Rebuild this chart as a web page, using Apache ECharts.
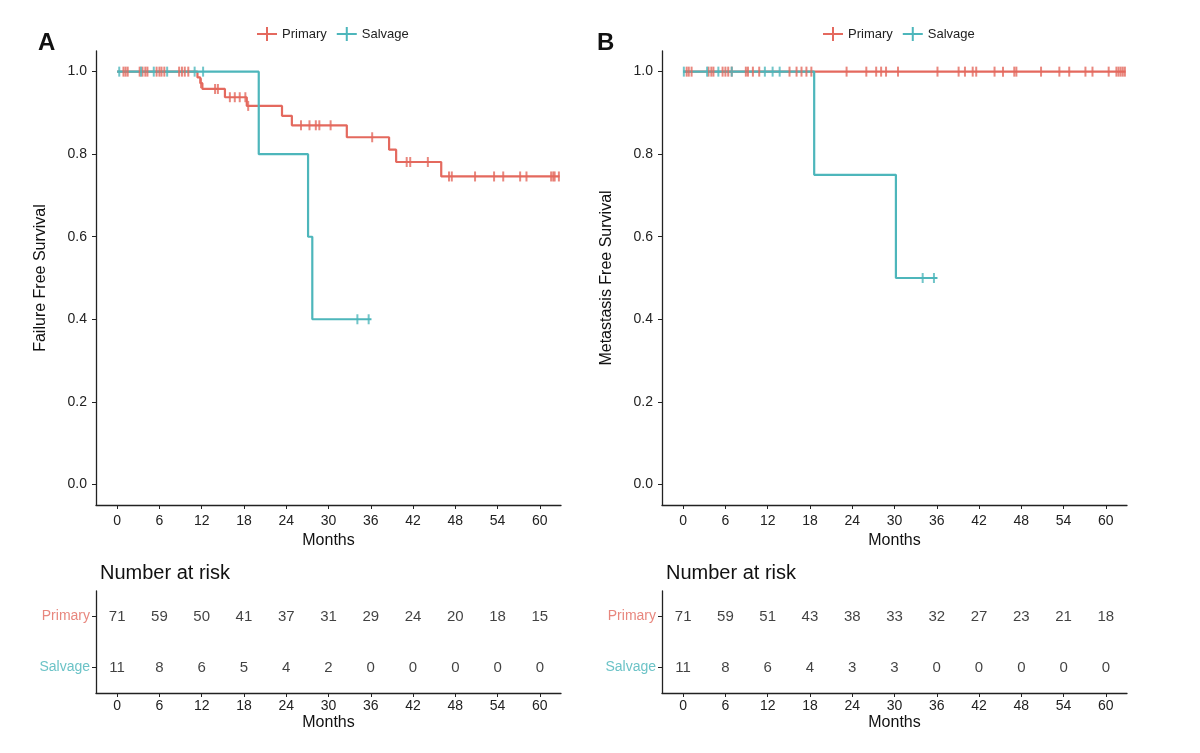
<!DOCTYPE html>
<html>
<head>
<meta charset="utf-8">
<script src="https://cdn.jsdelivr.net/npm/echarts@6/dist/echarts.min.js"></script>
<style>
  html, body { margin: 0; padding: 0; background: #fff; }
  #main { width: 1200px; height: 753px; }
</style>
</head>
<body>
<div id="main"></div>
<script>
// 数据：Kaplan-Meier 曲线（月份, 生存率）
var monthTicks = [0, 6, 12, 18, 24, 30, 36, 42, 48, 54, 60];
var survTicks = [0, 0.2, 0.4, 0.6, 0.8, 1.0];

// A: Failure Free Survival
var stepsA_primary = [[0, 1], [11.4, 0.986], [11.8, 0.972], [12.1, 0.958], [15.3, 0.938], [18.4, 0.917],
  [23.4, 0.893], [24.8, 0.870], [32.6, 0.841], [38.6, 0.811], [39.6, 0.781], [46.0, 0.746], [62.8, 0.746]];
var stepsA_salvage = [[0, 1], [20.1, 0.8], [27.1, 0.6], [27.7, 0.4], [36.1, 0.4]];
var censorA_primary = [0.9, 1.2, 1.5, 3.2, 3.6, 4.0, 4.3, 5.6, 6.0, 6.3, 6.7, 8.8, 9.2, 9.6, 10.1, 11.9,
  13.9, 14.3, 16.0, 16.7, 17.4, 18.2, 18.6, 26.1, 27.3, 28.2, 28.7, 30.3, 36.2, 41.1, 41.6, 44.1,
  47.1, 47.5, 50.8, 53.5, 54.8, 57.2, 58.1, 61.6, 61.9, 62.1, 62.7];
var censorA_salvage = [0.3, 3.4, 5.2, 7.1, 11.0, 12.2, 34.1, 35.7];

// B: Metastasis Free Survival
var stepsB_primary = [[0, 1], [62.8, 1]];
var stepsB_salvage = [[0, 1], [18.6, 0.75], [30.2, 0.5], [36.1, 0.5]];
var censorB_primary = [0.5, 0.8, 1.2, 3.6, 4.0, 4.3, 5.6, 6.0, 6.4, 6.9, 8.9, 9.2, 9.9, 10.8, 15.1, 16.1,
  16.8, 17.5, 18.2, 23.2, 26.0, 27.4, 28.1, 28.8, 30.5, 36.1, 39.1, 40.0, 41.1, 41.6, 44.2, 45.4,
  47.0, 47.3, 50.8, 53.4, 54.8, 57.1, 58.1, 60.4, 61.5, 61.8, 62.1, 62.4, 62.7];
var censorB_salvage = [0.1, 3.4, 5.0, 6.9, 11.6, 12.7, 13.7, 34.0, 35.6];

// Number at risk
var riskA_primary = [71, 59, 50, 41, 37, 31, 29, 24, 20, 18, 15];
var riskA_salvage = [11, 8, 6, 5, 4, 2, 0, 0, 0, 0, 0];
var riskB_primary = [71, 59, 51, 43, 38, 33, 32, 27, 23, 21, 18];
var riskB_salvage = [11, 8, 6, 4, 3, 3, 0, 0, 0, 0, 0];

var groups = ['Salvage', 'Primary'];
var RED = '#E4695E', TEAL = '#4DB6BB';
var FONT = 'Arial, "Liberation Sans", sans-serif';

var myChart = echarts.init(document.getElementById('main'));

// 删失点放在对应的阶梯高度上
function levelAt(steps, t) {
  var v = steps[0][1];
  for (var i = 0; i < steps.length; i++) {
    if (steps[i][0] <= t) v = steps[i][1];
  }
  return v;
}
function censorData(steps, times) {
  return times.map(function (t) { return [t, levelAt(steps, t)]; });
}
function riskData(primary, salvage) {
  var out = [];
  monthTicks.forEach(function (m, i) {
    out.push([m, 'Primary', primary[i]]);
    out.push([m, 'Salvage', salvage[i]]);
  });
  return out;
}

var tickMark = 'path://M0,0L2,0L2,10L0,10Z';
var legendIcon = 'path://M0,9L20,9L20,11L0,11Z M9,3L11,3L11,17L9,17Z';

function xAxisCfg(gridIndex, labelMargin, nameGap) {
  return {
    type: 'value', gridIndex: gridIndex, min: -3, max: 63,
    name: 'Months', nameLocation: 'middle', nameGap: nameGap,
    nameTextStyle: { fontSize: 16, color: '#111', fontFamily: FONT },
    axisLine: { show: true, onZero: false, lineStyle: { color: '#222', width: 1.3 } },
    axisTick: { show: true, length: 4, customValues: monthTicks, lineStyle: { color: '#222' } },
    axisLabel: { customValues: monthTicks, fontSize: 14, color: '#222', margin: labelMargin, fontFamily: FONT },
    splitLine: { show: false }
  };
}
function yAxisCfg(gridIndex, name) {
  return {
    type: 'value', gridIndex: gridIndex, min: -0.05, max: 1.05,
    name: name, nameLocation: 'middle', nameGap: 47,
    nameTextStyle: { fontSize: 16, color: '#111', fontFamily: FONT },
    axisLine: { show: true, onZero: false, lineStyle: { color: '#222', width: 1.3 } },
    axisTick: { show: true, length: 4, customValues: survTicks, lineStyle: { color: '#222' } },
    axisLabel: {
      customValues: survTicks, fontSize: 14, color: '#222', margin: 9, fontFamily: FONT,
      formatter: function (v) { return v.toFixed(1); }
    },
    splitLine: { show: false }
  };
}
function riskYAxis(gridIndex) {
  return {
    type: 'category', gridIndex: gridIndex, data: groups,
    axisLine: { show: true, onZero: false, lineStyle: { color: '#222', width: 1.3 } },
    axisTick: { show: true, length: 4, alignWithLabel: true, lineStyle: { color: '#222' } },
    axisLabel: {
      fontSize: 14, margin: 6, fontFamily: FONT,
      color: function (v) { return v === 'Primary' ? '#E8877E' : '#6CC3C7'; }
    }
  };
}
function stepSeries(name, steps, color, xi) {
  return {
    name: name, type: 'line', step: 'end', data: steps, xAxisIndex: xi, yAxisIndex: xi,
    symbol: 'none', lineStyle: { color: color, width: 2.2 }, itemStyle: { color: color }, z: 2
  };
}
function censorSeries(name, steps, times, color, xi) {
  return {
    name: name, type: 'scatter', data: censorData(steps, times), xAxisIndex: xi, yAxisIndex: xi,
    symbol: tickMark, symbolSize: [2, 10], itemStyle: { color: color }, z: 3, silent: true
  };
}
function riskSeries(data, xi) {
  return {
    type: 'scatter', data: data, xAxisIndex: xi, yAxisIndex: xi, symbolSize: 0, silent: true,
    label: {
      show: true, position: 'inside', fontSize: 15, color: '#111', fontFamily: FONT,
      formatter: function (p) { return p.data[2]; }
    }
  };
}

var option = {
  animation: false,
  backgroundColor: '#fff',
  textStyle: { fontFamily: FONT },
  title: [
    { text: 'A', left: 33, top: 26, textStyle: { fontSize: 24, fontWeight: 'bold', color: '#111', fontFamily: FONT } },
    { text: 'B', left: 592, top: 26, textStyle: { fontSize: 24, fontWeight: 'bold', color: '#111', fontFamily: FONT } },
    { text: 'Number at risk', left: 95, top: 558, textStyle: { fontSize: 20, fontWeight: 'normal', color: '#111', fontFamily: FONT } },
    { text: 'Number at risk', left: 661, top: 558, textStyle: { fontSize: 20, fontWeight: 'normal', color: '#111', fontFamily: FONT } }
  ],
  legend: [
    { data: ['Primary', 'Salvage'], left: 252, top: 22, icon: legendIcon, itemWidth: 20, itemHeight: 18, itemGap: 10,
      textStyle: { fontSize: 13, color: '#222', fontFamily: FONT } },
    { data: ['Primary', 'Salvage'], left: 818, top: 22, icon: legendIcon, itemWidth: 20, itemHeight: 18, itemGap: 10,
      textStyle: { fontSize: 13, color: '#222', fontFamily: FONT } }
  ],
  grid: [
    { left: 96, top: 51, width: 465, height: 454 },
    { left: 662, top: 51, width: 465, height: 454 },
    { left: 96, top: 591, width: 465, height: 102 },
    { left: 662, top: 591, width: 465, height: 102 }
  ],
  xAxis: [xAxisCfg(0, 9, 26), xAxisCfg(1, 9, 26), xAxisCfg(2, 6, 22), xAxisCfg(3, 6, 22)],
  yAxis: [yAxisCfg(0, 'Failure Free Survival'), yAxisCfg(1, 'Metastasis Free Survival'), riskYAxis(2), riskYAxis(3)],
  series: [
    stepSeries('Primary', stepsA_primary, RED, 0),
    stepSeries('Salvage', stepsA_salvage, TEAL, 0),
    censorSeries('Primary', stepsA_primary, censorA_primary, RED, 0),
    censorSeries('Salvage', stepsA_salvage, censorA_salvage, TEAL, 0),
    stepSeries('Primary', stepsB_primary, RED, 1),
    stepSeries('Salvage', stepsB_salvage, TEAL, 1),
    censorSeries('Primary', stepsB_primary, censorB_primary, RED, 1),
    censorSeries('Salvage', stepsB_salvage, censorB_salvage, TEAL, 1),
    riskSeries(riskData(riskA_primary, riskA_salvage), 2),
    riskSeries(riskData(riskB_primary, riskB_salvage), 3)
  ]
};

myChart.setOption(option);
</script>
</body>
</html>
